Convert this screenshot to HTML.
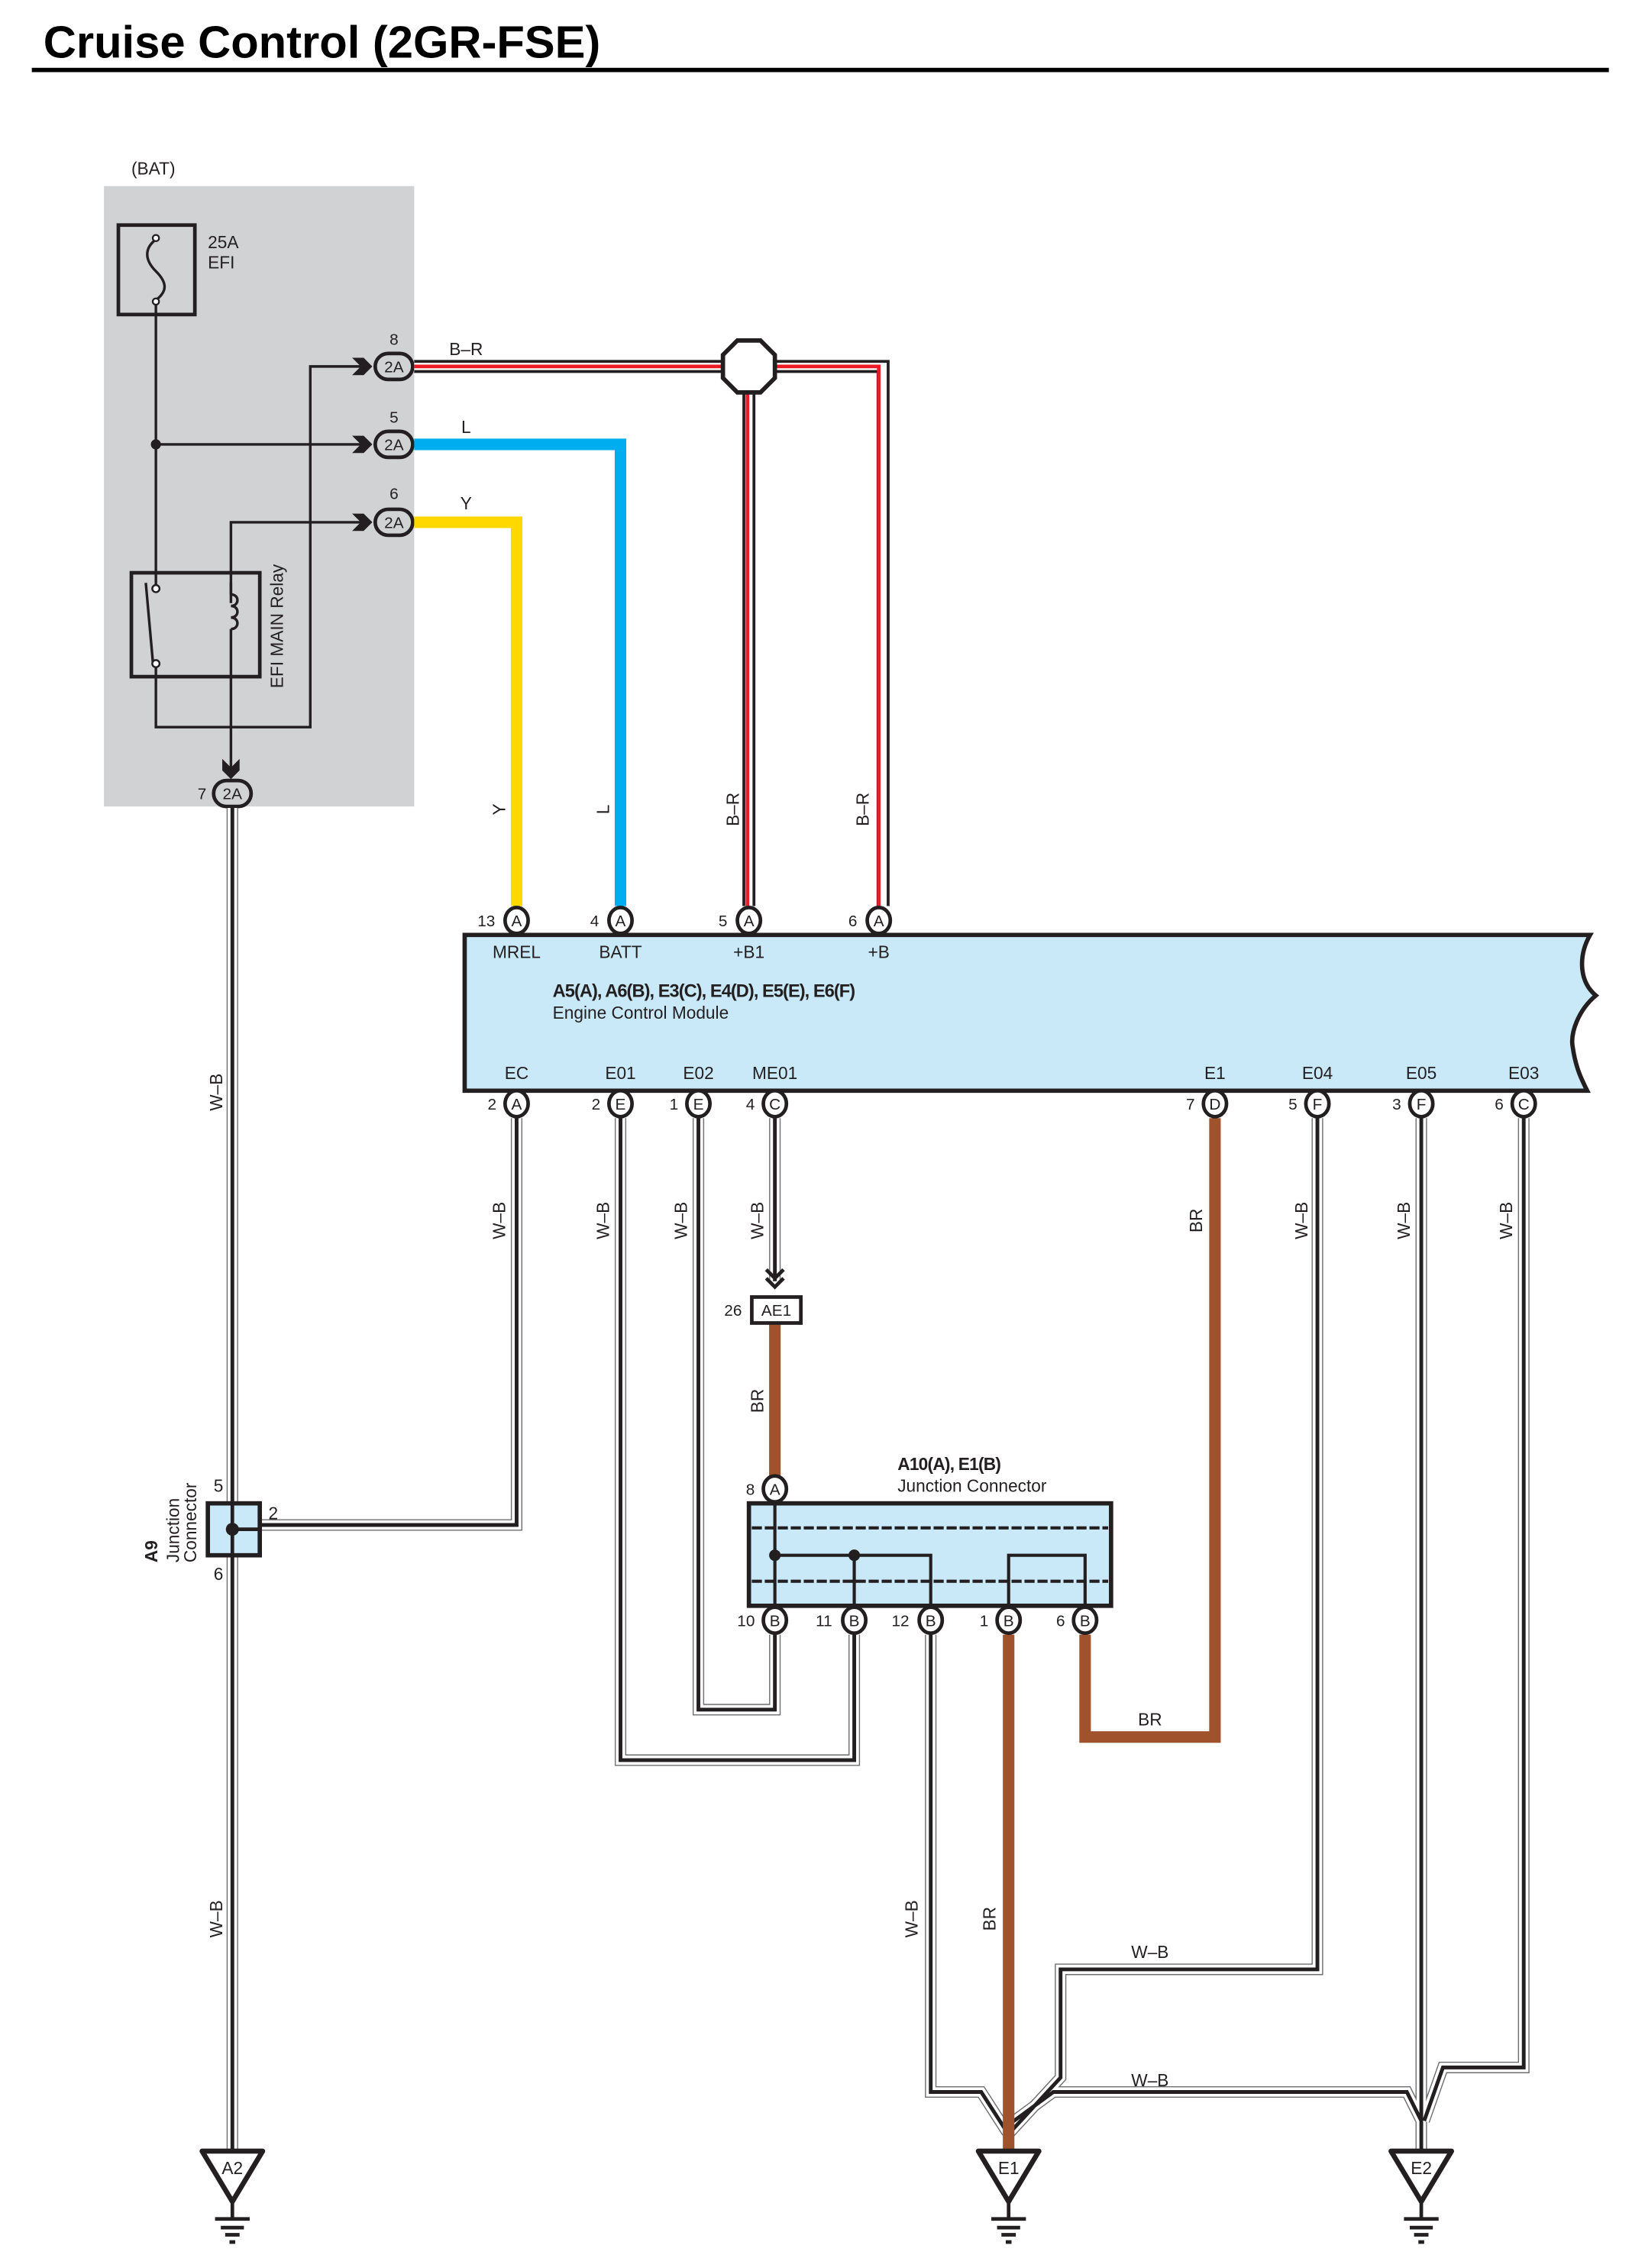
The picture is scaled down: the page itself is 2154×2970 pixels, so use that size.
<!DOCTYPE html>
<html><head><meta charset="utf-8"><style>
html,body{margin:0;padding:0;background:#fff;}
svg{display:block;}
text{font-family:"Liberation Sans",sans-serif;fill:#231f20;}
</style></head><body>
<svg width="2154" height="2970" viewBox="0 0 1140 1572" xmlns="http://www.w3.org/2000/svg">
<defs>
<path id="w1" d="M161 560 V1490" fill="none"/>
<path id="w2" d="M358 775 V1057 H180" fill="none"/>
<path id="w3" d="M430 775 V1220 H592 V1133" fill="none"/>
<path id="w4" d="M484 775 V1185 H537 V1133" fill="none"/>
<path id="w5" d="M537 775 V888" fill="none"/>
<path id="w6" d="M913 775 V1365 H735 V1440 L700 1478" fill="none"/>
<path id="w7" d="M985 775 V1490" fill="none"/>
<path id="w8" d="M1056 775 V1433 H1000 L987 1470" fill="none"/>
<path id="w9" d="M645 1133 V1450 H680 L698 1478" fill="none"/>
<path id="w10" d="M700 1472 L730 1450 H975 L985 1470" fill="none"/>
</defs>
<!-- title -->
<text x="30" y="40" font-size="31.6" font-weight="bold" style="fill:#000">Cruise Control (2GR-FSE)</text>
<rect x="22" y="47" width="1093" height="3" fill="#000"/>

<!-- gray box -->
<rect x="72" y="129" width="215" height="430" fill="#d1d2d4"/>
<text x="91" y="121" font-size="12">(BAT)</text>
<rect x="82" y="156" width="53" height="62" fill="none" stroke="#231f20" stroke-width="2.5"/>
<path d="M108 166 C100 172 100 180 108 188 C116 196 116 202 108 208" fill="none" stroke="#231f20" stroke-width="1.8"/>
<circle cx="108" cy="165" r="2.2" fill="#fff" stroke="#231f20" stroke-width="1.2"/>
<circle cx="108" cy="209" r="2.2" fill="#fff" stroke="#231f20" stroke-width="1.2"/>
<text x="144" y="172" font-size="12">25A</text>
<text x="144" y="186" font-size="12">EFI</text>
<g fill="none" stroke="#231f20" stroke-width="1.8">
<path d="M108 211 V406"/>
<path d="M108 308 H250"/>
<path d="M108 462 V504 H215 V254 H250"/>
<path d="M160 470 V534"/>
<path d="M160 418 V362 H250"/>
<path d="M160 412 c6 0 6 8 0 8 c6 0 6 8 0 8 c6 0 6 8 0 8 M160 412 V404 M160 436 V470"/>
<path d="M101 404 L106 460"/>
</g>
<circle cx="108" cy="308" r="3.5" fill="#231f20"/>
<rect x="91" y="397" width="89" height="72" fill="none" stroke="#231f20" stroke-width="2.5"/>
<circle cx="108" cy="408" r="2.5" fill="#fff" stroke="#231f20" stroke-width="1.3"/>
<circle cx="108" cy="460" r="2.5" fill="#fff" stroke="#231f20" stroke-width="1.3"/>
<text transform="translate(196 477) rotate(-90)" font-size="12">EFI MAIN Relay</text>
<!-- chevrons -->
<g fill="#231f20">
<path d="M244 248 L252 248 L258 254 L252 260 L244 260 L250 254Z"/>
<path d="M244 302 L252 302 L258 308 L252 314 L244 314 L250 308Z"/>
<path d="M244 356 L252 356 L258 362 L252 368 L244 368 L250 362Z"/>
<path d="M154 526 L154 534 L160 540 L166 534 L166 526 L160 532Z"/>
</g>
<!-- 2A connectors -->
<g font-size="11" text-anchor="middle">
<rect x="260" y="245" width="26" height="18" rx="9" fill="#d1d2d4" stroke="#231f20" stroke-width="2.5"/><text x="273" y="258">2A</text>
<rect x="260" y="299" width="26" height="18" rx="9" fill="#d1d2d4" stroke="#231f20" stroke-width="2.5"/><text x="273" y="312">2A</text>
<rect x="260" y="353" width="26" height="18" rx="9" fill="#d1d2d4" stroke="#231f20" stroke-width="2.5"/><text x="273" y="366">2A</text>
<rect x="148" y="541" width="26" height="18" rx="9" fill="#d1d2d4" stroke="#231f20" stroke-width="2.5"/><text x="161" y="554">2A</text>
<text x="273" y="239">8</text><text x="273" y="293">5</text><text x="273" y="346">6</text><text x="140" y="554">7</text>
</g>

<!-- colored wires -->
<path d="M287 362 H358 V628" fill="none" stroke="#ffd800" stroke-width="8"/>
<path d="M287 308 H430 V628" fill="none" stroke="#00aeef" stroke-width="8"/>
<g fill="none">
<path d="M287 254 H612 V628" stroke="#231f20" stroke-width="9"/>
<path d="M287 254 H612 V628" stroke="#fff" stroke-width="5"/>
<path d="M287 254 H609 V628" stroke="#ed1c24" stroke-width="2.5"/>
<path d="M519 254 V628" stroke="#231f20" stroke-width="9"/>
<path d="M519 254 V628" stroke="#fff" stroke-width="5"/>
<path d="M518 254 V628" stroke="#ed1c24" stroke-width="2.5"/>
</g>
<path d="M511 236 H527 L537 246 V262 L527 272 H511 L501 262 V246Z" fill="#fff" stroke="#231f20" stroke-width="3"/>
<g font-size="12" text-anchor="middle">
<text x="323" y="246">B–R</text><text x="323" y="300">L</text><text x="323" y="353">Y</text>
<text transform="translate(350 561) rotate(-90)">Y</text>
<text transform="translate(422 561) rotate(-90)">L</text>
<text transform="translate(512 561) rotate(-90)">B–R</text>
<text transform="translate(602 561) rotate(-90)">B–R</text>
</g>

<!-- W-B wires -->
<g fill="none">
<use href="#w1" stroke="#6d6e71" stroke-width="8"/><use href="#w2" stroke="#6d6e71" stroke-width="8"/><use href="#w3" stroke="#6d6e71" stroke-width="8"/><use href="#w4" stroke="#6d6e71" stroke-width="8"/><use href="#w5" stroke="#6d6e71" stroke-width="8"/><use href="#w6" stroke="#6d6e71" stroke-width="8"/><use href="#w7" stroke="#6d6e71" stroke-width="8"/><use href="#w8" stroke="#6d6e71" stroke-width="8"/><use href="#w9" stroke="#6d6e71" stroke-width="8"/><use href="#w10" stroke="#6d6e71" stroke-width="8"/>
<use href="#w1" stroke="#fff" stroke-width="6.5"/><use href="#w2" stroke="#fff" stroke-width="6.5"/><use href="#w3" stroke="#fff" stroke-width="6.5"/><use href="#w4" stroke="#fff" stroke-width="6.5"/><use href="#w5" stroke="#fff" stroke-width="6.5"/><use href="#w6" stroke="#fff" stroke-width="6.5"/><use href="#w7" stroke="#fff" stroke-width="6.5"/><use href="#w8" stroke="#fff" stroke-width="6.5"/><use href="#w9" stroke="#fff" stroke-width="6.5"/><use href="#w10" stroke="#fff" stroke-width="6.5"/>
<g stroke="#231f20" stroke-width="2.6">
<use href="#w1"/><use href="#w2"/><use href="#w3"/><use href="#w4"/><use href="#w5"/><use href="#w6"/><use href="#w7"/><use href="#w8"/><use href="#w9"/><use href="#w10"/>
</g>
</g>
<!-- BR wires -->
<g fill="none" stroke="#a0522d" stroke-width="8">
<path d="M537 917 V1030"/>
<path d="M842 775 V1204 H752 V1133"/>
<path d="M699 1133 V1490"/>
</g>

<!-- ECM -->
<path d="M322 648 H1102 C1094 662 1094 680 1106 690 C1094 700 1088 716 1090 726 C1092 740 1096 748 1100 756 H322Z" fill="#c9e8f8" stroke="#231f20" stroke-width="3"/>
<g font-size="12" text-anchor="middle">
<text x="358" y="664">MREL</text><text x="430" y="664">BATT</text><text x="519" y="664">+B1</text><text x="609" y="664">+B</text>
<text x="358" y="748">EC</text><text x="430" y="748">E01</text><text x="484" y="748">E02</text><text x="537" y="748">ME01</text>
<text x="842" y="748">E1</text><text x="913" y="748">E04</text><text x="985" y="748">E05</text><text x="1056" y="748">E03</text>
</g>
<text x="383" y="691" font-size="12.5" font-weight="bold" letter-spacing="-0.5">A5(A), A6(B), E3(C), E4(D), E5(E), E6(F)</text>
<text x="383" y="706" font-size="12">Engine Control Module</text>

<!-- pins -->
<g font-size="11" text-anchor="middle">
<g fill="#fff" stroke="#231f20" stroke-width="2.5">
<ellipse cx="358" cy="638" rx="8" ry="9"/><ellipse cx="430" cy="638" rx="8" ry="9"/><ellipse cx="519" cy="638" rx="8" ry="9"/><ellipse cx="609" cy="638" rx="8" ry="9"/>
<ellipse cx="358" cy="765" rx="8" ry="9"/><ellipse cx="430" cy="765" rx="8" ry="9"/><ellipse cx="484" cy="765" rx="8" ry="9"/><ellipse cx="537" cy="765" rx="8" ry="9"/>
<ellipse cx="842" cy="765" rx="8" ry="9"/><ellipse cx="913" cy="765" rx="8" ry="9"/><ellipse cx="985" cy="765" rx="8" ry="9"/><ellipse cx="1056" cy="765" rx="8" ry="9"/>
<ellipse cx="537" cy="1032" rx="8" ry="9"/>
<ellipse cx="537" cy="1123" rx="8" ry="9"/><ellipse cx="592" cy="1123" rx="8" ry="9"/><ellipse cx="645" cy="1123" rx="8" ry="9"/><ellipse cx="699" cy="1123" rx="8" ry="9"/><ellipse cx="752" cy="1123" rx="8" ry="9"/>
</g>
<text x="358" y="642">A</text><text x="430" y="642">A</text><text x="519" y="642">A</text><text x="609" y="642">A</text>
<text x="337" y="642">13</text><text x="412" y="642">4</text><text x="501" y="642">5</text><text x="591" y="642">6</text>
<text x="358" y="769">A</text><text x="430" y="769">E</text><text x="484" y="769">E</text><text x="537" y="769">C</text>
<text x="842" y="769">D</text><text x="913" y="769">F</text><text x="985" y="769">F</text><text x="1056" y="769">C</text>
<text x="341" y="769">2</text><text x="413" y="769">2</text><text x="467" y="769">1</text><text x="520" y="769">4</text>
<text x="825" y="769">7</text><text x="896" y="769">5</text><text x="968" y="769">3</text><text x="1039" y="769">6</text>
<text x="537" y="1036">A</text><text x="520" y="1036">8</text>
<text x="537" y="1127">B</text><text x="592" y="1127">B</text><text x="645" y="1127">B</text><text x="699" y="1127">B</text><text x="752" y="1127">B</text>
<text x="517" y="1127">10</text><text x="571" y="1127">11</text><text x="624" y="1127">12</text><text x="682" y="1127">1</text><text x="735" y="1127">6</text>
</g>

<!-- AE1 -->
<path d="M531 880 L537 886 L543 880 M531 886 L537 892 L543 886" fill="none" stroke="#231f20" stroke-width="2.5"/>
<rect x="521" y="899" width="34" height="18" fill="#fff" stroke="#231f20" stroke-width="2.5"/>
<text x="538" y="912" font-size="11" text-anchor="middle">AE1</text>
<text x="508" y="912" font-size="11" text-anchor="middle">26</text>

<!-- A10 junction -->
<rect x="519" y="1042" width="251" height="71" fill="#c9e8f8" stroke="#231f20" stroke-width="3"/>
<g fill="none" stroke="#231f20" stroke-width="2.2">
<path d="M521 1059 H768 M521 1096 H768" stroke-dasharray="7 2"/>
<path d="M537 1040 V1115 M537 1078 H645 V1115 M592 1078 V1115 M699 1115 V1078 H752 V1115"/>
</g>
<circle cx="537" cy="1078" r="4" fill="#231f20"/><circle cx="592" cy="1078" r="4" fill="#231f20"/>
<text x="622" y="1019" font-size="12" font-weight="bold" letter-spacing="-0.4">A10(A), E1(B)</text>
<text x="622" y="1034" font-size="12">Junction Connector</text>

<!-- A9 -->
<rect x="144" y="1042" width="36" height="36" fill="#c9e8f8" stroke="#231f20" stroke-width="3"/>
<path d="M161 1042 V1078 M161 1060 H180" stroke="#231f20" stroke-width="2.5"/>
<circle cx="161" cy="1060" r="4.5" fill="#231f20"/>
<g font-size="12">
<text x="148" y="1034">5</text><text x="148" y="1095">6</text><text x="186" y="1053">2</text>
<text transform="translate(109 1083) rotate(-90)" font-weight="bold">A9</text>
<text transform="translate(124 1083) rotate(-90)">Junction</text>
<text transform="translate(136 1083) rotate(-90)">Connector</text>
</g>

<!-- wire labels -->
<g font-size="12" text-anchor="middle">
<text transform="translate(154 757) rotate(-90)">W–B</text>
<text transform="translate(154 1330) rotate(-90)">W–B</text>
<text transform="translate(350 846) rotate(-90)">W–B</text>
<text transform="translate(422 846) rotate(-90)">W–B</text>
<text transform="translate(476 846) rotate(-90)">W–B</text>
<text transform="translate(529 846) rotate(-90)">W–B</text>
<text transform="translate(906 846) rotate(-90)">W–B</text>
<text transform="translate(977 846) rotate(-90)">W–B</text>
<text transform="translate(1048 846) rotate(-90)">W–B</text>
<text transform="translate(636 1330) rotate(-90)">W–B</text>
<text transform="translate(833 846) rotate(-90)">BR</text>
<text transform="translate(529 971) rotate(-90)">BR</text>
<text transform="translate(690 1330) rotate(-90)">BR</text>
<text x="797" y="1196">BR</text>
<text x="797" y="1357">W–B</text>
<text x="797" y="1446">W–B</text>
</g>

<!-- grounds -->
<g>
<g transform="translate(161 0)">
<path d="M-21 1491 H21 L0 1526Z" fill="#fff" stroke="#231f20" stroke-width="3.5" stroke-linejoin="round"/>
<path d="M0 1526 V1537 M-12 1538 H12 M-8 1544 H8 M-5 1549 H5 M-2 1554 H2" stroke="#231f20" stroke-width="2.5"/>
<text x="0" y="1507" font-size="12" text-anchor="middle">A2</text>
</g>
<g transform="translate(699 0)">
<path d="M-21 1491 H21 L0 1526Z" fill="#fff" stroke="#231f20" stroke-width="3.5" stroke-linejoin="round"/>
<path d="M0 1526 V1537 M-12 1538 H12 M-8 1544 H8 M-5 1549 H5 M-2 1554 H2" stroke="#231f20" stroke-width="2.5"/>
<text x="0" y="1507" font-size="12" text-anchor="middle">E1</text>
</g>
<g transform="translate(985 0)">
<path d="M-21 1491 H21 L0 1526Z" fill="#fff" stroke="#231f20" stroke-width="3.5" stroke-linejoin="round"/>
<path d="M0 1526 V1537 M-12 1538 H12 M-8 1544 H8 M-5 1549 H5 M-2 1554 H2" stroke="#231f20" stroke-width="2.5"/>
<text x="0" y="1507" font-size="12" text-anchor="middle">E2</text>
</g>
</g>
</svg>
</body></html>
